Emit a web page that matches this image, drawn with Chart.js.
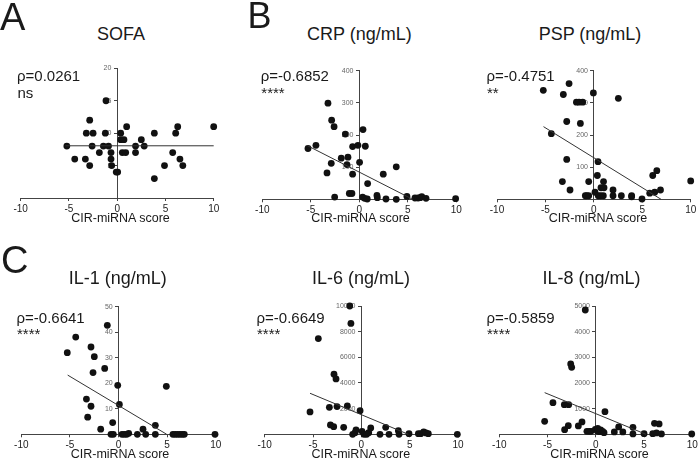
<!DOCTYPE html>
<html>
<head>
<meta charset="utf-8">
<script src="https://cdn.jsdelivr.net/npm/chart.js@4"></script>
<style>
  body { margin: 0; width: 700px; height: 461px; position: relative; overflow: hidden; background: #fff;
         font-family: Arial, "Liberation Sans", sans-serif; color: #1a1a1a; }
  canvas { position: absolute; }
  .t { position: absolute; white-space: nowrap; }
</style>
</head>
<body>
<script>
// ---- data ----
const sofaX = [-5.22,-4.4,-3.3,-3.2,-2.85,-2.85,-2.6,-2.5,-1.85,-1.43,-1.23,-1.16,-0.9,-0.64,-0.64,-0.57,-0.1,0.05,0.36,0.36,0.7,0.53,0.88,0.98,1.9,1.9,2.5,2.8,3.85,3.85,4.9,5.75,6.06,6.27,6.5,6.8,10];
const sofaY = [8,6,6,10,12,5,8,10,7,8,10,15,8,7,6,5,4,4,10,9,9,7,7,11,8,7,9,8,10,3,5,7,10,11,6,5,11];

const crpX = [-5.29,-4.47,-3.23,-2.85,-2.6,-2.89,-3.33,-2.54,-1.44,-1.86,-1.17,-1.27,-1.03,-0.76,-0.69,-0.69,-0.14,0.03,0.38,0.62,0.86,0.34,0.55,0.82,1.82,1.86,2.47,2.75,3.81,3.81,4.91,5.74,6.06,6.27,6.44,6.88,9.93];
const crpY = [158,168,299,246,226,112,82,7,203,128,131,108,18,18,164,78,168,115,217,165,49,7,3,1,12,5,78,1,101,0,9,4,4,5,8,3,2];

const pspX = [-5.22,-4.39,-3.15,-2.56,-2.8,-2.8,-3.25,-2.46,-1.8,-1.53,-1.15,-1.39,-0.88,-0.74,-0.53,-0.53,-0.05,0.12,0.43,0.36,0.46,0.7,0.74,1.05,0.98,1.0,2.53,1.98,1.98,2.84,3.9,3.9,4.97,5.77,6.08,6.28,6.5,6.88,10];
const pspY = [339,204,326,360,242,124,55,29,302,302,302,236,11,11,11,55,331,22,117,74,11,11,36,36,11,55,314,29,11,11,11,8,1,19,74,22,89,29,57];

const il1X = [-5.27,-4.4,-3.3,-3.17,-2.83,-2.83,-2.49,-2.62,-1.83,-1.42,-1.15,-0.6,-0.77,-0.53,-0.08,0.09,0.36,0.6,0.84,1.05,1.94,2.52,2.8,3.79,3.79,4.92,5.6,5.84,6.08,6.32,6.56,6.77,9.93];
const il1Y = [32,38.1,13.8,6.7,34.2,11,30.4,24.2,2,25.8,42.7,4.6,0,0,19.2,11.7,0,0,0,0.4,0,2,0,3.5,0,18.8,0,0,0,0,0,0,0];

const il6X = [-5.31,-4.45,-3.31,-3.2,-2.86,-2.83,-2.62,-2.52,-1.83,-1.45,-1.2,-1.08,-0.9,-0.65,-0.55,-0.13,0.07,0.28,0.55,0.76,0.97,1.93,2.52,2.86,3.83,3.9,4.93,5.9,6.14,6.45,6.69,6.93,9.93];
const il6Y = [1742,7462,2106,728,598,4680,4316,2158,546,2206,10000,8640,0,125,335,1840,234,0,0,125,490,0,546,0,280,0,52,52,52,182,104,52,0];

const il8X = [-5.3,-4.44,-3.26,-2.81,-3.23,-2.85,-2.6,-2.5,-1.81,-1.43,-1.09,-0.92,-0.68,-0.5,-0.05,0.16,0.37,0.5,0.7,0.85,0.2,0.95,1.92,2.37,2.8,3.85,3.85,5.0,5.9,6.08,6.29,6.56,6.8,9.94];
const il8Y = [507,1234,1156,1156,182,338,2741,2611,325,481,4845,117,117,117,195,130,104,169,117,65,234,883,91,286,91,273,13,26,26,429,52,403,13,13];

// regression line end points
const sofaFitX = [-5.35, 10],  sofaFitY = [8.05, 8.05];
const crpFitX  = [-5.36, 5.5], crpFitY  = [167, 0];
const pspFitX  = [-5.2, 6.94], pspFitY  = [226, 0];
const il1FitX  = [-5.23, 4.96], il1FitY = [23.2, 0];
const il6FitX  = [-5.31, 4.86], il6FitY = [3198, 0];
const il8FitX  = [-5.3, 5.2],  il8FitY  = [1624, 0];

const panelTitles = ['SOFA', 'CRP (ng/mL)', 'PSP (ng/mL)', 'IL-1 (ng/mL)', 'IL-6 (ng/mL)', 'IL-8 (ng/mL)'];
const rhoLabels = ['ρ=0.0261', 'ρ=-0.6852', 'ρ=-0.4751', 'ρ=-0.6641', 'ρ=-0.6649', 'ρ=-0.5859'];
const sigLabels = ['ns', '****', '**', '****', '****', '****'];
const yMax = [20, 400, 400, 50, 10000, 5000];
const yStep = [5, 100, 100, 10, 2000, 1000];
const xMin = -10, xMax = 10, xStep = 5;
const xTitle = 'CIR-miRNA score';
const panelLetters = ['A', 'B', 'C'];

// ---- layout ----
const frames = [
  {L: 20.7,  R: 213.7, T: 68.3,  B: 198,   title: [121, 40.3],    rho: [17, 81],    xt: [120.5, 222.7]},
  {L: 262.3, R: 456.3, T: 70.7,  B: 199.3, title: [359.4, 40.3],  rho: [260.8, 81], xt: [360.5, 222.7]},
  {L: 497,   R: 690.7, T: 70.7,  B: 199.3, title: [590, 40.3],    rho: [486.5, 81], xt: [598, 222.7]},
  {L: 21.3,  R: 215.7, T: 306.7, B: 434.3, title: [117.7, 284.5], rho: [16.5, 322.5], xt: [120, 459]},
  {L: 264.7, R: 458,   T: 306,   B: 434.3, title: [361, 284.5],   rho: [256.5, 322.5], xt: [360.8, 459]},
  {L: 499.3, R: 692.3, T: 306,   B: 434.3, title: [591.5, 284.5], rho: [486.5, 322.5], xt: [599.5, 459]}
];
const letterPos = [[0, 30, 38], [247.5, 28.5, 36], [1, 273, 38]];

Chart.defaults.font.family = 'Arial, "Liberation Sans", sans-serif';

function addText(txt, x, base, size, center) {
  const d = document.createElement('div');
  d.className = 't';
  d.textContent = txt;
  d.style.fontSize = size + 'px';
  d.style.lineHeight = size + 'px';
  d.style.top = (base - 0.8465 * size) + 'px';
  d.style.left = x + 'px';
  if (center) d.style.transform = 'translateX(-50%)';
  document.body.appendChild(d);
}

function makePanel(i, xs, ys, fx, fy) {
  const f = frames[i];
  const axisH = 18;
  const cl = Math.floor(f.L) - 20, ct = Math.floor(f.T) - 10;
  const cw = Math.ceil(f.R) + 20 - cl;
  const ch = Math.ceil(f.B - ct + axisH);
  const cv = document.createElement('canvas');
  cv.width = cw; cv.height = ch;
  cv.style.left = cl + 'px'; cv.style.top = ct + 'px';
  document.body.appendChild(cv);

  const axisColor = '#444';
  new Chart(cv, {
    type: 'scatter',
    data: {
      datasets: [
        {
          data: fx.map((x, k) => ({x: x, y: fy[k]})),
          showLine: true, pointRadius: 0, borderColor: '#333', borderWidth: 1, clip: false
        },
        {
          data: xs.map((x, k) => ({x: x, y: ys[k]})),
          pointRadius: 3.4, pointBackgroundColor: '#111', pointBorderWidth: 0, clip: false
        }
      ]
    },
    options: {
      responsive: false,
      animation: false,
      devicePixelRatio: 1,
      layout: {padding: {left: f.L - cl, right: cw - (f.R - cl), top: f.T - ct, bottom: ch - axisH - (f.B - ct)}},
      plugins: {legend: {display: false}, tooltip: {enabled: false}},
      scales: {
        x: {
          type: 'linear', position: 'bottom', min: xMin, max: xMax,
          grid: {drawOnChartArea: false, drawTicks: true, tickLength: 3, color: axisColor},
          border: {display: true, color: axisColor, width: 1},
          ticks: {stepSize: xStep, font: {size: 10}, color: '#222', padding: 2, maxRotation: 0, autoSkip: false},
          afterFit: s => { s.height = axisH; }
        },
        y: {
          type: 'linear', position: {x: 0}, min: 0, max: yMax[i],
          grid: {drawOnChartArea: false, drawTicks: true, tickLength: 3, color: axisColor},
          border: {display: true, color: axisColor, width: 1},
          // labels sit right-aligned on the axis; trailing spaces push them clear of the tick marks
          ticks: {stepSize: yStep[i], font: {size: 7}, color: '#666',
                  callback: v => v === 0 ? null : String(v) + '   '}
        }
      }
    }
  });

  addText(panelTitles[i], f.title[0], f.title[1], 18, true);
  addText(rhoLabels[i], f.rho[0], f.rho[1], 15, false);
  addText(sigLabels[i], f.rho[0] + 0.5, f.rho[1] + 16.5, 15, false);
  addText(xTitle, f.xt[0], f.xt[1], 12.5, true);
}

makePanel(0, sofaX, sofaY, sofaFitX, sofaFitY);
makePanel(1, crpX, crpY, crpFitX, crpFitY);
makePanel(2, pspX, pspY, pspFitX, pspFitY);
makePanel(3, il1X, il1Y, il1FitX, il1FitY);
makePanel(4, il6X, il6Y, il6FitX, il6FitY);
makePanel(5, il8X, il8Y, il8FitX, il8FitY);

panelLetters.forEach((l, k) => addText(l, letterPos[k][0], letterPos[k][1], letterPos[k][2], false));
</script>
</body>
</html>
